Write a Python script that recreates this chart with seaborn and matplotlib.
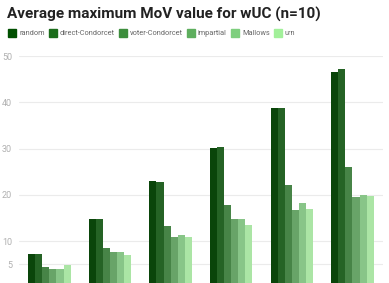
import seaborn as sns
import matplotlib.pyplot as plt
import pandas as pd
import numpy as np

groups = ["1", "2", "3", "4", "5", "6"]
series = ["random", "direct-Condorcet", "voter-Condorcet", "impartial", "Mallows", "urn"]
random_vals = [7.2, 14.8, 23.0, 30.2, 38.7, 46.6]
direct_vals = [7.3, 14.7, 22.7, 30.4, 38.7, 47.1]
voter_vals = [4.4, 8.5, 13.2, 17.8, 22.2, 26.1]
impartial_vals = [3.9, 7.6, 10.8, 14.7, 16.7, 19.6]
mallows_vals = [3.95, 7.6, 11.3, 14.7, 18.3, 19.9]
urn_vals = [4.9, 7.05, 10.8, 13.4, 16.85, 19.7]
colors = ["#004f00", "#1b6d1b", "#3d8e3d", "#5eae5e", "#7ecf7e", "#a2f09a"]

rows = []
for name, vals in zip(series, [random_vals, direct_vals, voter_vals,
                               impartial_vals, mallows_vals, urn_vals]):
    for g, v in zip(groups, vals):
        rows.append([g, name, v])
df = pd.DataFrame(rows, columns=["group", "series", "value"])

sns.set_style("white")
plt.rcParams["font.family"] = ["Roboto", "DejaVu Sans"]

fig = plt.figure(figsize=(3.89, 2.83), dpi=100)
ax = fig.add_axes([0.049, 0.0, 0.935, 0.802])
sns.barplot(data=df, x="group", y="value", hue="series", palette=colors,
            width=0.7, gap=0, linewidth=0, legend=False, ax=ax)

ax.set_xlim(-0.5, 5.5)
ax.set_ylim(0.93, 50)
ax.set_yticks([5, 10, 20, 30, 40, 50])
ax.yaxis.grid(True, color="#ebebeb", linewidth=0.8)
ax.set_axisbelow(True)
ax.tick_params(axis="y", length=0, labelsize=6.5, labelcolor="#b0b0b0", pad=5)
ax.set_xticks([])
ax.set_xlabel("")
ax.set_ylabel("")
for s in ax.spines.values():
    s.set_visible(False)

fig.text(0.018, 0.95, "Average maximum MoV value for wUC (n=10)",
         fontsize=11, fontweight="bold", color="#222222", va="center")

handles = [plt.Rectangle((0, 0), 1, 1, color=c) for c in colors]
fig.legend(handles, series, loc="center left", bbox_to_anchor=(0.008, 0.883),
           ncol=6, frameon=False, fontsize=5.3, labelcolor="#666666",
           handlelength=1.1, handleheight=1.35, handletextpad=0.4,
           columnspacing=0.55, borderpad=0.2)

plt.savefig("out.png")
